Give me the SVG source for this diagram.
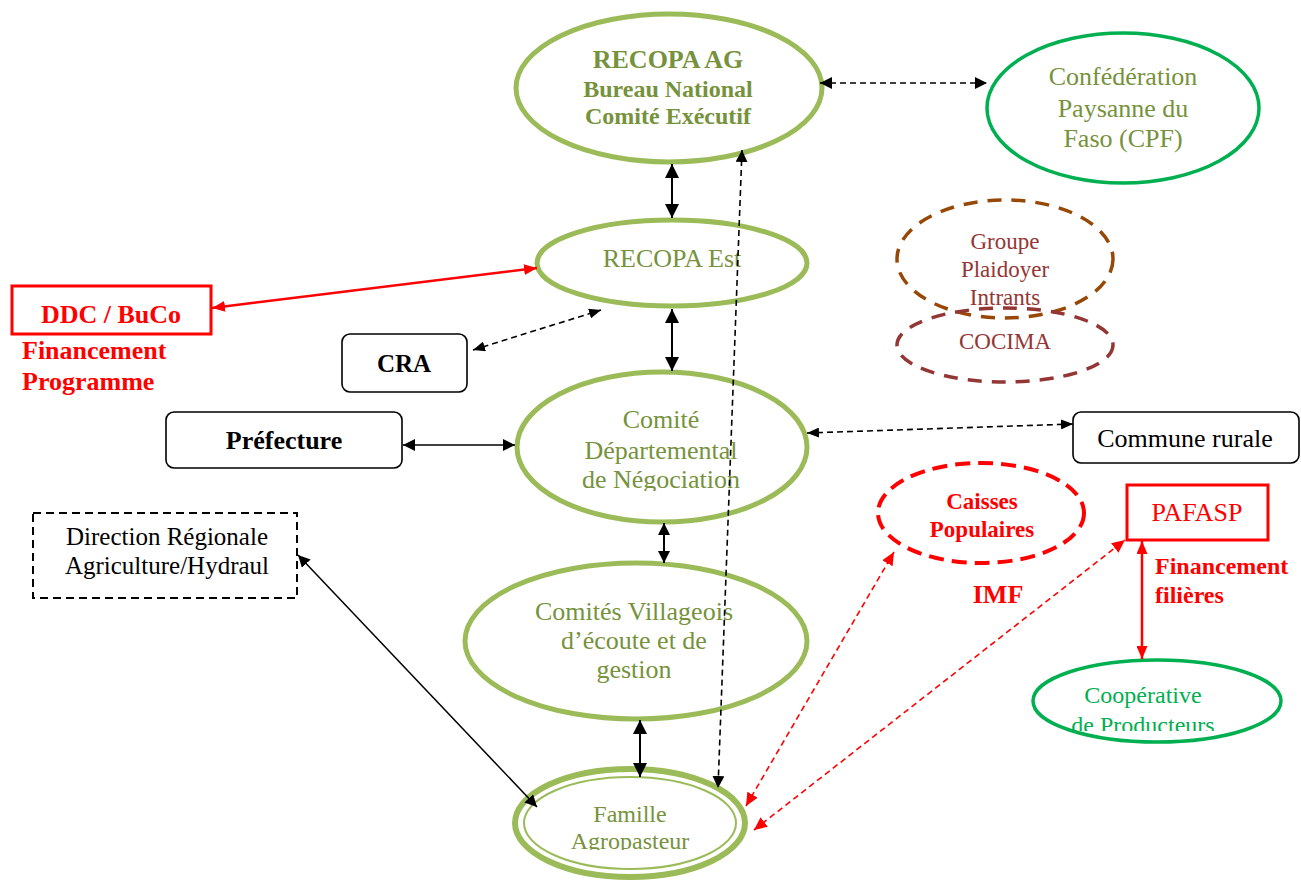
<svg xmlns="http://www.w3.org/2000/svg" width="1301" height="881" viewBox="0 0 1301 881">
<style>
  text { font-family: "Liberation Serif", "Times New Roman", serif; text-anchor: middle; }
  .olive { fill: #76923C; }
  .gell { fill: none; stroke: #9BBB59; stroke-width: 5; }
  .cell { fill: none; stroke: #00B050; stroke-width: 3.5; }
  .box { fill: #fff; stroke: #000; stroke-width: 1.6; }
  .b { font-weight: bold; }
  .red { fill: #FF0000; }
  .blk { fill: #000; }
  .c-solid { stroke: #000; stroke-width: 2; fill: none; }
  .c-thin { stroke: #000; stroke-width: 1.5; fill: none; }
  .c-dash { stroke: #000; stroke-width: 1.6; stroke-dasharray: 6 4; fill: none; }
  .c-red { stroke: #FF0000; stroke-width: 2.5; fill: none; }
  .c-rdash { stroke: #FF0000; stroke-width: 1.6; stroke-dasharray: 6 4; fill: none; }
</style>
<defs>
  <marker id="aBig" viewBox="0 0 14 14" refX="14" refY="7" markerWidth="14" markerHeight="14" markerUnits="userSpaceOnUse" orient="auto-start-reverse"><path d="M0,0 L14,7 L0,14 z" fill="#000"/></marker>
  <marker id="aMed" viewBox="0 0 12 12" refX="12" refY="6" markerWidth="12" markerHeight="12" markerUnits="userSpaceOnUse" orient="auto-start-reverse"><path d="M0,0 L12,6 L0,12 z" fill="#000"/></marker>
  <marker id="aSm" viewBox="0 0 12 10" refX="12" refY="5" markerWidth="12" markerHeight="10" markerUnits="userSpaceOnUse" orient="auto-start-reverse"><path d="M0,0 L12,5 L0,10 z" fill="#000"/></marker>
  <marker id="rMed" viewBox="0 0 13 11" refX="13" refY="5.5" markerWidth="13" markerHeight="11" markerUnits="userSpaceOnUse" orient="auto-start-reverse"><path d="M0,0 L13,5.5 L0,11 z" fill="#FF0000"/></marker>
  <marker id="rDash" viewBox="0 0 13 12" refX="13" refY="6" markerWidth="13" markerHeight="12" markerUnits="userSpaceOnUse" orient="auto-start-reverse"><path d="M0,0 L13,6 L0,12 z" fill="#FF0000"/></marker>
  <clipPath id="clipFam"><rect x="500" y="760" width="260" height="90"/></clipPath>
  <clipPath id="clipCoop"><rect x="1030" y="655" width="260" height="76"/></clipPath>
  <clipPath id="clipCom"><rect x="515" y="370" width="295" height="121"/></clipPath>
</defs>

<g id="recopa-ag">
  <ellipse class="gell" cx="669" cy="88" rx="153" ry="74"/>
  <text class="olive b" x="668" y="68" font-size="26">RECOPA AG</text>
  <text class="olive b" x="668" y="97" font-size="24">Bureau National</text>
  <text class="olive b" x="668" y="124" font-size="24">Comité Exécutif</text>
</g>

<g id="cpf">
  <ellipse class="cell" cx="1123" cy="108" rx="136" ry="75"/>
  <text class="olive" x="1123" y="85" font-size="26">Confédération</text>
  <text class="olive" x="1123" y="117" font-size="26">Paysanne du</text>
  <text class="olive" x="1123" y="147" font-size="26">Faso (CPF)</text>
</g>

<g id="recopa-est">
  <ellipse class="gell" cx="672" cy="263" rx="135" ry="43"/>
  <text class="olive" x="672" y="267" font-size="26">RECOPA Est</text>
</g>

<g id="groupe-plaidoyer">
  <ellipse cx="1005" cy="259" rx="108" ry="59" fill="none" stroke="#974806" stroke-width="3.5" stroke-dasharray="14 10"/>
  <text x="1005" y="249" font-size="23" fill="#943634">Groupe</text>
  <text x="1005" y="277" font-size="23" fill="#943634">Plaidoyer</text>
  <text x="1005" y="305" font-size="23" fill="#943634">Intrants</text>
</g>

<g id="cocima">
  <ellipse cx="1005" cy="345" rx="108" ry="37" fill="none" stroke="#943634" stroke-width="3.5" stroke-dasharray="14 10"/>
  <text x="1005" y="349" font-size="23" fill="#943634">COCIMA</text>
</g>

<g id="ddc">
  <rect x="12" y="286" width="199" height="48" fill="#fff" stroke="#FF0000" stroke-width="3"/>
  <text class="red b" x="111" y="323" font-size="26">DDC / BuCo</text>
  <text class="red b" x="22" y="359" font-size="26" style="text-anchor:start">Financement</text>
  <text class="red b" x="22" y="390" font-size="26" style="text-anchor:start">Programme</text>
</g>

<g id="cra">
  <rect class="box" x="342" y="334" width="125" height="58" rx="8"/>
  <text class="blk b" x="404" y="372" font-size="25">CRA</text>
</g>

<g id="prefecture">
  <rect class="box" x="166" y="412" width="236" height="56" rx="8"/>
  <text class="blk b" x="284" y="449" font-size="26">Préfecture</text>
</g>

<g id="comite-departemental">
  <ellipse class="gell" cx="662" cy="447" rx="145" ry="75"/>
  <g clip-path="url(#clipCom)">
    <text class="olive" x="661" y="428" font-size="26">Comité</text>
    <text class="olive" x="661" y="459" font-size="26">Départemental</text>
    <text class="olive" x="661" y="488" font-size="26">de Négociation</text>
  </g>
</g>

<g id="commune-rurale">
  <rect class="box" x="1073" y="412" width="226" height="51" rx="8"/>
  <text class="blk" x="1185" y="447" font-size="26">Commune rurale</text>
</g>

<g id="direction-regionale">
  <rect x="33" y="513" width="264" height="85" fill="#fff" stroke="#000" stroke-width="2" stroke-dasharray="8 5"/>
  <text class="blk" x="167" y="545" font-size="25">Direction Régionale</text>
  <text class="blk" x="167" y="574" font-size="25">Agriculture/Hydraul</text>
</g>

<g id="caisses-populaires">
  <ellipse cx="981" cy="513" rx="103" ry="50" fill="none" stroke="#FF0000" stroke-width="4" stroke-dasharray="15 8"/>
  <text class="red b" x="982" y="509" font-size="23">Caisses</text>
  <text class="red b" x="982" y="537" font-size="23">Populaires</text>
</g>

<g id="imf">
  <text class="red b" x="998" y="603" font-size="26">IMF</text>
</g>

<g id="pafasp">
  <rect x="1127" y="485" width="141" height="55" fill="#fff" stroke="#FF0000" stroke-width="3"/>
  <text class="red" x="1197" y="521" font-size="26">PAFASP</text>
  <text class="red b" x="1155" y="574" font-size="24" style="text-anchor:start">Financement</text>
  <text class="red b" x="1155" y="603" font-size="24" style="text-anchor:start">filières</text>
</g>

<g id="comites-villageois">
  <ellipse class="gell" cx="636" cy="641" rx="171" ry="78"/>
  <text class="olive" x="634" y="620" font-size="26">Comités Villageois</text>
  <text class="olive" x="634" y="649" font-size="26">d’écoute et de</text>
  <text class="olive" x="634" y="678" font-size="26">gestion</text>
</g>

<g id="cooperative">
  <ellipse class="cell" cx="1157" cy="701" rx="124" ry="41"/>
  <g clip-path="url(#clipCoop)">
    <text x="1143" y="703" font-size="24" fill="#00B050">Coopérative</text>
    <text x="1143" y="733" font-size="24" fill="#00B050">de Producteurs</text>
  </g>
</g>

<g id="famille">
  <ellipse cx="630" cy="823" rx="115" ry="54" fill="none" stroke="#9BBB59" stroke-width="6"/>
  <ellipse cx="630" cy="823" rx="106" ry="46" fill="none" stroke="#9BBB59" stroke-width="2"/>
  <g clip-path="url(#clipFam)">
    <text class="olive" x="630" y="822" font-size="24">Famille</text>
    <text class="olive" x="630" y="849" font-size="24">Agropasteur</text>
  </g>
</g>

<g id="connectors">
  <line class="c-solid" x1="672" y1="164" x2="672" y2="218" marker-start="url(#aBig)" marker-end="url(#aBig)"/>
  <line class="c-solid" x1="672" y1="309" x2="672" y2="371" marker-start="url(#aBig)" marker-end="url(#aBig)"/>
  <line class="c-solid" x1="664" y1="523" x2="664" y2="563" marker-start="url(#aMed)" marker-end="url(#aMed)"/>
  <line class="c-solid" x1="640" y1="720" x2="640" y2="777" marker-start="url(#aBig)" marker-end="url(#aBig)"/>
  <line class="c-dash" x1="742" y1="150" x2="718" y2="788" marker-start="url(#aMed)" marker-end="url(#aMed)"/>
  <line class="c-dash" x1="820" y1="83" x2="987" y2="83" marker-start="url(#aMed)" marker-end="url(#aMed)"/>
  <line class="c-red" x1="212" y1="308" x2="537" y2="268" marker-start="url(#rMed)" marker-end="url(#rMed)"/>
  <line class="c-dash" x1="473" y1="350" x2="601" y2="310" marker-start="url(#aSm)" marker-end="url(#aSm)"/>
  <line class="c-thin" x1="403" y1="445" x2="515" y2="445" marker-start="url(#aMed)" marker-end="url(#aMed)"/>
  <line class="c-dash" x1="807" y1="433" x2="1073" y2="424" marker-start="url(#aSm)" marker-end="url(#aSm)"/>
  <line class="c-thin" x1="298" y1="555" x2="537" y2="807" marker-start="url(#aMed)" marker-end="url(#aMed)"/>
  <line class="c-rdash" x1="746" y1="806" x2="894" y2="552" marker-start="url(#rDash)" marker-end="url(#rDash)"/>
  <line class="c-rdash" x1="754" y1="830" x2="1125" y2="540" marker-start="url(#rDash)" marker-end="url(#rDash)"/>
  <line class="c-red" x1="1142" y1="541" x2="1142" y2="659" stroke-width="2" marker-start="url(#rMed)" marker-end="url(#rMed)"/>
</g>
</svg>
